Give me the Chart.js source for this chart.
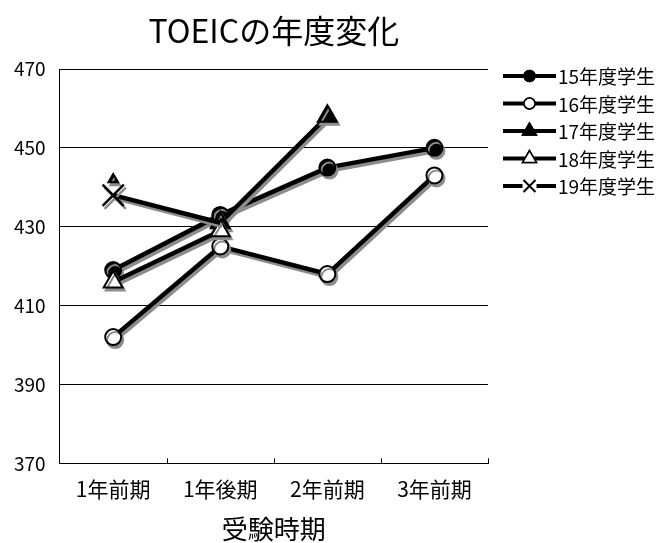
<!DOCTYPE html>
<html>
<head>
<meta charset="utf-8">
<script src="https://cdn.jsdelivr.net/npm/chart.js@4/dist/chart.umd.min.js"></script>
<style>
html,body{margin:0;padding:0;background:#fff;}
#wrap{width:664px;height:543px;}
</style>
</head>
<body>
<div id="wrap"><canvas id="c" width="664" height="543"></canvas></div>
<script>
const categories = ['1年前期', '1年後期', '2年前期', '3年前期'];
const seriesNames = ['15年度学生', '16年度学生', '17年度学生', '18年度学生', '19年度学生'];
const s15 = [419, 433, 445, 450];
const s16 = [402, 425, 418, 443];
const s17 = [442, 431, 458, null];
const s18 = [416, 429, null, null];
const s19 = [438, 431, null, null];
const yTicks = [370, 390, 410, 430, 450, 470];

const FONT = '"Noto Sans CJK JP", "Noto Sans", sans-serif';

const styles = [
  {pointStyle: 'circle', r: [8, 8, 8, 8], fill: '#000', lr: 5.5},
  {pointStyle: 'circle', r: [8, 8, 8, 8], fill: '#fff', lr: 5.5},
  {pointStyle: 'triangle', r: [5.5, 11, 11, 11], fill: '#000', lr: 8},
  {pointStyle: 'triangle', r: [11, 11, 11, 11], fill: '#fff', lr: 8},
  {pointStyle: 'crossRot', r: [15, 0, 0, 0], fill: '#fff', lr: 9}
];
const seriesData = [s15, s16, s17, s18, s19];

const datasets = seriesData.map((d, i) => {
  const st = styles[i];
  const ds = {
    label: seriesNames[i],
    data: d,
    borderColor: '#000',
    borderWidth: 4.5,
    backgroundColor: st.fill,
    pointBackgroundColor: st.fill,
    pointBorderColor: '#000',
    pointBorderWidth: i === 4 ? 2.5 : 2,
    pointRadius: st.r,
    pointHoverRadius: st.r,
    pointStyle: st.pointStyle,
    tension: 0,
    fill: false,
    spanGaps: false,
    order: 4 - i,
    clip: false
  };
  if (i === 2) {
    ds.segment = { borderColor: ctx => ctx.p0DataIndex === 0 ? 'rgba(0,0,0,0)' : '#000' };
  }
  return ds;
});

const shadowPlugin = {
  id: 'shadow',
  beforeDatasetDraw(chart) {
    const ctx = chart.ctx;
    ctx.save();
    ctx.shadowColor = 'rgba(140,140,140,1)';
    ctx.shadowOffsetX = 2;
    ctx.shadowOffsetY = 3;
    ctx.shadowBlur = 0;
  },
  afterDatasetDraw(chart) {
    chart.ctx.restore();
  }
};

const xTickPlugin = {
  id: 'xticks',
  afterDraw(chart) {
    const ctx = chart.ctx;
    const a = chart.chartArea;
    const n = categories.length;
    const band = (a.right - a.left) / n;
    ctx.save();
    ctx.strokeStyle = '#000';
    ctx.lineWidth = 1;
    ctx.beginPath();
    for (let i = 1; i <= n; i++) {
      const x = Math.round(a.left + band * i) + 0.5;
      ctx.moveTo(x, a.bottom);
      ctx.lineTo(x, a.bottom - 5);
    }
    ctx.stroke();
    ctx.restore();
  }
};

const legendPlugin = {
  id: 'customLegend',
  afterDraw(chart) {
    const ctx = chart.ctx;
    const x0 = 503, x1 = 556, mx = 529.5, tx = 558;
    const y0 = 76, dy = 27.5;
    ctx.save();
    seriesNames.forEach((name, i) => {
      const y = y0 + dy * i;
      const st = styles[i];
      ctx.strokeStyle = '#000';
      ctx.lineWidth = 4;
      ctx.beginPath();
      ctx.moveTo(x0, y); ctx.lineTo(x1, y);
      ctx.stroke();
      ctx.lineWidth = 1.5;
      ctx.fillStyle = st.fill;
      if (i === 4) {
        ctx.fillStyle = '#fff';
        ctx.fillRect(mx - 7, y - 7, 14, 14);
        ctx.lineWidth = 2;
        ctx.beginPath();
        ctx.moveTo(mx - 6, y - 6); ctx.lineTo(mx + 6, y + 6);
        ctx.moveTo(mx + 6, y - 6); ctx.lineTo(mx - 6, y + 6);
        ctx.stroke();
      } else {
        Chart.helpers.drawPoint(ctx, {pointStyle: st.pointStyle, radius: st.lr, borderWidth: 1.5, rotation: 0}, mx, y);
        ctx.fill();
        ctx.stroke();
      }
      ctx.fillStyle = '#000';
      ctx.font = '19px ' + FONT;
      ctx.textBaseline = 'middle';
      ctx.textAlign = 'left';
      ctx.fillText(name, tx, y + 1);
    });
    ctx.restore();
  }
};

new Chart(document.getElementById('c'), {
  type: 'line',
  data: { labels: categories, datasets },
  options: {
    responsive: false,
    animation: false,
    devicePixelRatio: 1,
    layout: { padding: { left: 0, right: 176, top: 0, bottom: 0 } },
    plugins: {
      legend: { display: false },
      tooltip: { enabled: false },
      title: {
        display: true,
        text: 'TOEICの年度変化',
        fullSize: false,
        color: '#000',
        font: { family: FONT, size: 32, weight: 'normal' },
        padding: { top: 12, bottom: 18.6 }
      }
    },
    scales: {
      x: {
        type: 'category',
        offset: true,
        grid: { display: false, drawTicks: false },
        border: { display: true, color: '#000', width: 1 },
        ticks: { color: '#000', font: { family: FONT, size: 21, lineHeight: 1.1 }, padding: 14, maxRotation: 0 },
        title: { display: true, text: '受験時期', color: '#000', font: { family: FONT, size: 26, lineHeight: 1.1 }, padding: { top: 0, bottom: 0 } }
      },
      y: {
        min: 370,
        max: 470,
        afterBuildTicks: axis => { axis.ticks = yTicks.map(v => ({ value: v })); },
        grid: { color: '#000', lineWidth: 1, drawTicks: false },
        border: { display: true, color: '#000', width: 1 },
        ticks: { color: '#000', font: { family: FONT, size: 19 }, padding: 14 }
      }
    }
  },
  plugins: [shadowPlugin, xTickPlugin, legendPlugin]
});
</script>
</body>
</html>
